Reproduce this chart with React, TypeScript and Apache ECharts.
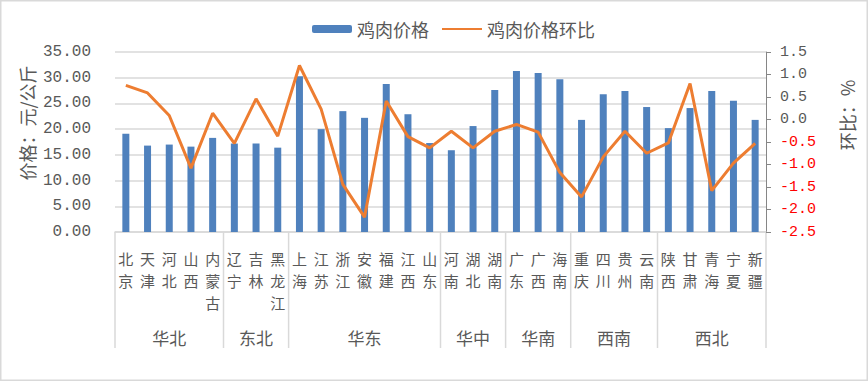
import React, { useEffect, useRef } from "react";
import * as echarts from "echarts";

const provinces = [
  "北京", "天津", "河北", "山西", "内蒙古",
  "辽宁", "吉林", "黑龙江",
  "上海", "江苏", "浙江", "安徽", "福建", "江西", "山东",
  "河南", "湖北", "湖南",
  "广东", "广西", "海南",
  "重庆", "四川", "贵州", "云南",
  "陕西", "甘肃", "青海", "宁夏", "新疆",
];
const regions = ["华北", "东北", "华东", "华中", "华南", "西南", "西北"];
const regionSizes = [5, 3, 7, 3, 3, 4, 5];

const prices = [
  19.1, 16.8, 17.0, 16.6, 18.3,
  17.2, 17.2, 16.4,
  30.3, 20.0, 23.5, 22.2, 28.8, 22.9, 17.3,
  15.9, 20.6, 27.6,
  31.3, 30.9, 29.7,
  21.8, 26.8, 27.4, 24.3,
  20.2, 24.1, 27.4, 25.5, 21.8,
];
const momChange = [
  0.76, 0.59, 0.09, -1.08, 0.14,
  -0.53, 0.46, -0.37,
  1.2, 0.23, -1.44, -2.17, 0.41, -0.38, -0.63,
  -0.26, -0.63, -0.26,
  -0.11, -0.28, -1.18,
  -1.72, -0.83, -0.26, -0.75,
  -0.52, 0.8, -1.58, -0.97, -0.53,
];

const TEXT = "#595959";
const GRIDC = "#d9d9d9";
const CJK = '"Noto Sans CJK SC", "Noto Sans", sans-serif';
const MONO = '"Liberation Mono", "DejaVu Sans Mono", monospace';

export default function App() {
  const ref = useRef<HTMLDivElement>(null);
  useEffect(() => {
    document.body.style.margin = "0";
    if (!ref.current) return;
    const chart = echarts.init(ref.current, undefined, { renderer: "svg" });
    chart.setOption({
      animation: false,
      backgroundColor: "#ffffff",
      legend: {
        left: 307,
        top: 15,
        itemWidth: 40,
        itemHeight: 8,
        itemGap: 12,
        textStyle: { fontSize: 18, color: TEXT, fontFamily: CJK },
        data: [
          { name: "鸡肉价格" },
          { name: "鸡肉价格环比", itemStyle: { opacity: 0 } },
        ],
      },
      grid: { left: 115, right: 102, top: 52, bottom: 149, containLabel: false },
      xAxis: [
        {
          type: "category",
          data: provinces,
          axisLine: { show: true, lineStyle: { color: GRIDC, width: 1.5 } },
          axisTick: { show: false },
          axisLabel: {
            interval: 0,
            margin: 15,
            fontSize: 15,
            lineHeight: 22,
            color: TEXT,
            fontFamily: CJK,
            formatter: (v: string) => v.split("").join("\n"),
          },
        },
      ],
      yAxis: [
        {
          type: "value",
          min: 0,
          max: 35,
          interval: 5,
          axisLine: { show: false },
          axisTick: { show: false },
          splitLine: { lineStyle: { color: GRIDC, width: 1.5 } },
          axisLabel: {
            margin: 24,
            fontSize: 16,
            color: TEXT,
            fontFamily: MONO,
            formatter: (v: number) => v.toFixed(2),
          },
        },
        {
          type: "value",
          position: "right",
          min: -2.5,
          max: 1.5,
          interval: 0.5,
          axisLine: { show: true, lineStyle: { color: "#868686", width: 1 } },
          axisTick: { show: true, length: 5, lineStyle: { color: "#868686" } },
          splitLine: { show: false },
          axisLabel: {
            margin: 14,
            fontSize: 15,
            fontFamily: MONO,
            formatter: (v: number) => v.toFixed(1),
            color: (v: any) => (Number(v) < 0 ? "#ff0000" : TEXT),
          },
        },
      ],
      series: [
        {
          name: "鸡肉价格",
          type: "bar",
          data: prices,
          barWidth: 7,
          itemStyle: { color: "#4f81bd" },
        },
        {
          name: "鸡肉价格环比",
          type: "line",
          yAxisIndex: 1,
          data: momChange,
          symbol: "none",
          lineStyle: { color: "#ed7d31", width: 3 },
          itemStyle: { color: "#ed7d31" },
        },
      ],
    });

    const xs = provinces.map((p) => chart.convertToPixel({ xAxisIndex: 0 }, p) as number);
    const band = xs[1] - xs[0];
    const y0 = chart.convertToPixel({ yAxisIndex: 0 }, 0) as number;
    const sepBottom = y0 + 116;
    const graphics: any[] = [
      {
        type: "rect",
        shape: { x: 0.75, y: 0.75, width: 866.5, height: 379.5 },
        style: { fill: "none", stroke: GRIDC, lineWidth: 1.5 },
        silent: true,
      },
      {
        type: "text",
        x: 27,
        y: 123,
        rotation: Math.PI / 2,
        style: {
          text: "价格：元/公斤",
          fontSize: 18,
          fontFamily: CJK,
          fill: TEXT,
          align: "center",
          verticalAlign: "middle",
          textAlign: "center",
          textVerticalAlign: "middle",
        },
      },
      {
        type: "text",
        x: 847,
        y: 115,
        rotation: Math.PI / 2,
        style: {
          text: "环比：%",
          fontSize: 18,
          fontFamily: CJK,
          fill: TEXT,
          align: "center",
          verticalAlign: "middle",
          textAlign: "center",
          textVerticalAlign: "middle",
        },
      },
    ];
    let start = 0;
    regions.forEach((r, i) => {
      const size = regionSizes[i];
      const left = xs[start] - band / 2;
      const right = xs[start + size - 1] + band / 2;
      graphics.push({
        type: "line",
        shape: { x1: left, y1: y0, x2: left, y2: sepBottom },
        style: { stroke: GRIDC, lineWidth: 1.5 },
      });
      if (i === regions.length - 1) {
        graphics.push({
          type: "line",
          shape: { x1: right, y1: y0, x2: right, y2: sepBottom },
          style: { stroke: GRIDC, lineWidth: 1.5 },
        });
      }
      graphics.push({
        type: "text",
        x: (left + right) / 2,
        y: 337,
        style: {
          text: r,
          fontSize: 17,
          fontFamily: CJK,
          fill: TEXT,
          align: "center",
          verticalAlign: "middle",
          textAlign: "center",
          textVerticalAlign: "middle",
        },
      });
      start += size;
    });
    chart.setOption({ graphic: graphics });

    return () => chart.dispose();
  }, []);
  return <div ref={ref} style={{ width: 868, height: 381 }} />;
}
